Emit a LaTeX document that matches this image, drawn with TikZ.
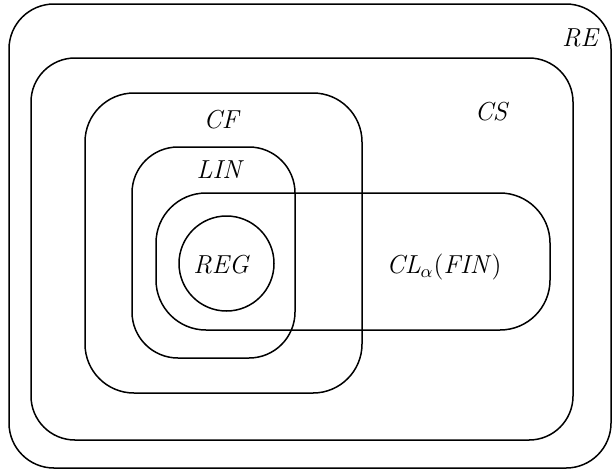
\documentclass[tikz,border=0pt]{standalone}
\usetikzlibrary{shapes.geometric}
\begin{document}
\begin{tikzpicture}[x=0.5pt,y=-0.5pt,
  setbox/.style={draw=black, line width=0.75pt, rectangle, inner sep=0pt, outer sep=0pt},
  setcirc/.style={draw=black, line width=0.75pt, circle, inner sep=0pt, outer sep=0pt},
  lbl/.style={font=\fontsize{13}{15}\selectfont\itshape, inner sep=0pt}]
\useasboundingbox (0,0) rectangle (613,471);
\node[setbox, minimum width=301pt, minimum height=232pt, rounded corners=22.5pt] (RE) at (310,236) {};
\node[setbox, minimum width=271pt, minimum height=191pt, rounded corners=22pt] (CS) at (302,249) {};
\node[setbox, minimum width=138.5pt, minimum height=150pt, rounded corners=24.5pt] (CF) at (223.5,243) {};
\node[setbox, minimum width=81.5pt, minimum height=105.5pt, rounded corners=23pt] (LIN) at (213.5,252.5) {};
\node[setbox, minimum width=197pt, minimum height=68.5pt, rounded corners=25pt] (CL) at (353,261.5) {};
\node[setcirc, minimum size=47.5pt] (REG) at (226.5,263.5) {};
\node[lbl] (REl) at (580,38) {RE};
\node[lbl] (CSl) at (491,112) {CS};
\node[lbl] (CFl) at (221,120) {CF};
\node[lbl] (LINl) at (219,170) {LIN};
\node[lbl] (REGl) at (221,265) {REG};
\node[lbl] (CLl) at (444,267) {CL$_\alpha$\textup{(}FIN\textup{)}};
\end{tikzpicture}
\end{document}
